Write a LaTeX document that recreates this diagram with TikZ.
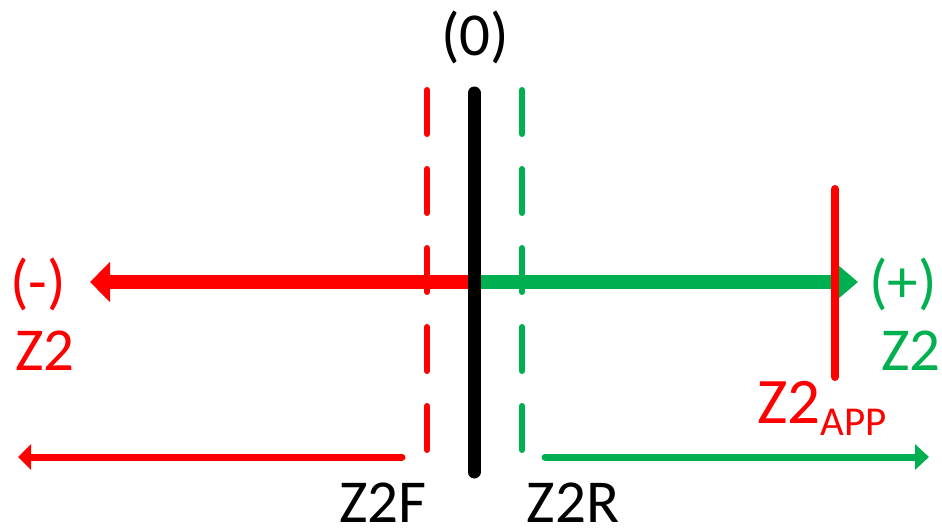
\documentclass[tikz,border=0pt]{standalone}
\usepackage{fontspec}
\setmainfont{Carlito}
\usetikzlibrary{arrows.meta}
\definecolor{myred}{HTML}{FF0000}
\definecolor{mygreen}{HTML}{00B050}
\begin{document}
\begin{tikzpicture}[x=1pt,y=-1pt,
  lbl/.style={inner sep=0pt,anchor=base,font=\fontsize{61}{64}\selectfont},
  thickarrow/.style={line width=14pt},
  thinarrow/.style={line width=7pt,line cap=round},
  dashline/.style={line width=6pt,line cap=round,dash pattern=on 44pt off 35pt}]
\useasboundingbox (0,0) rectangle (942,530);
% coordinates
\coordinate (c) at (474,282);
\coordinate (ltip) at (90,282);
\coordinate (rtip) at (858,282);
\coordinate (rdt) at (427,90);
\coordinate (rdb) at (427,452);
\coordinate (gdt) at (522,90);
\coordinate (gdb) at (522,452);
\coordinate (bt) at (474,93);
\coordinate (bb) at (474,472);
\coordinate (at) at (835,189);
\coordinate (ab) at (835,377);
\coordinate (lbs) at (402,457);
\coordinate (lbe) at (18,457);
\coordinate (rbs) at (545,457);
\coordinate (rbe) at (929,457);
% thick arrows
\draw[thickarrow,myred,-{Triangle[length=20pt,width=39pt]}] (c) -- (ltip);
\draw[thickarrow,mygreen,-{Triangle[length=22pt,width=36pt]}] (c) -- (rtip);
% dashed lines
\draw[dashline,myred] (rdt) -- (rdb);
\draw[dashline,mygreen] (gdt) -- (gdb);
% zero line
\draw[line width=13pt,line cap=round,black] (bt) -- (bb);
% app line
\draw[line width=8pt,line cap=round,myred] (at) -- (ab);
% bottom arrows
\draw[thinarrow,myred,-{Triangle[length=13pt,width=25pt]}] (lbs) -- (lbe);
\draw[thinarrow,mygreen,-{Triangle[length=14pt,width=25pt]}] (rbs) -- (rbe);
% labels
\node[lbl] (zero) at (475,55) {(0)};
\node[lbl,myred] (minus) at (38,302) {(-)};
\node[lbl,mygreen] (plus) at (903,302) {(+)};
\node[lbl,myred] (z2l) at (45,370) {Z2};
\node[lbl,mygreen] (z2r) at (911,370) {Z2};
\node[inner sep=0pt,anchor=base west,myred,font=\fontsize{65}{66}\selectfont] (z2app) at (757,423) {Z2\raisebox{-12pt}{\fontsize{41}{42}\selectfont APP}};
\node[lbl,text depth=0pt] (z2f) at (383,522) {Z2F};
\node[lbl,text depth=0pt] (z2rr) at (573,522) {Z2R};
\end{tikzpicture}
\end{document}
